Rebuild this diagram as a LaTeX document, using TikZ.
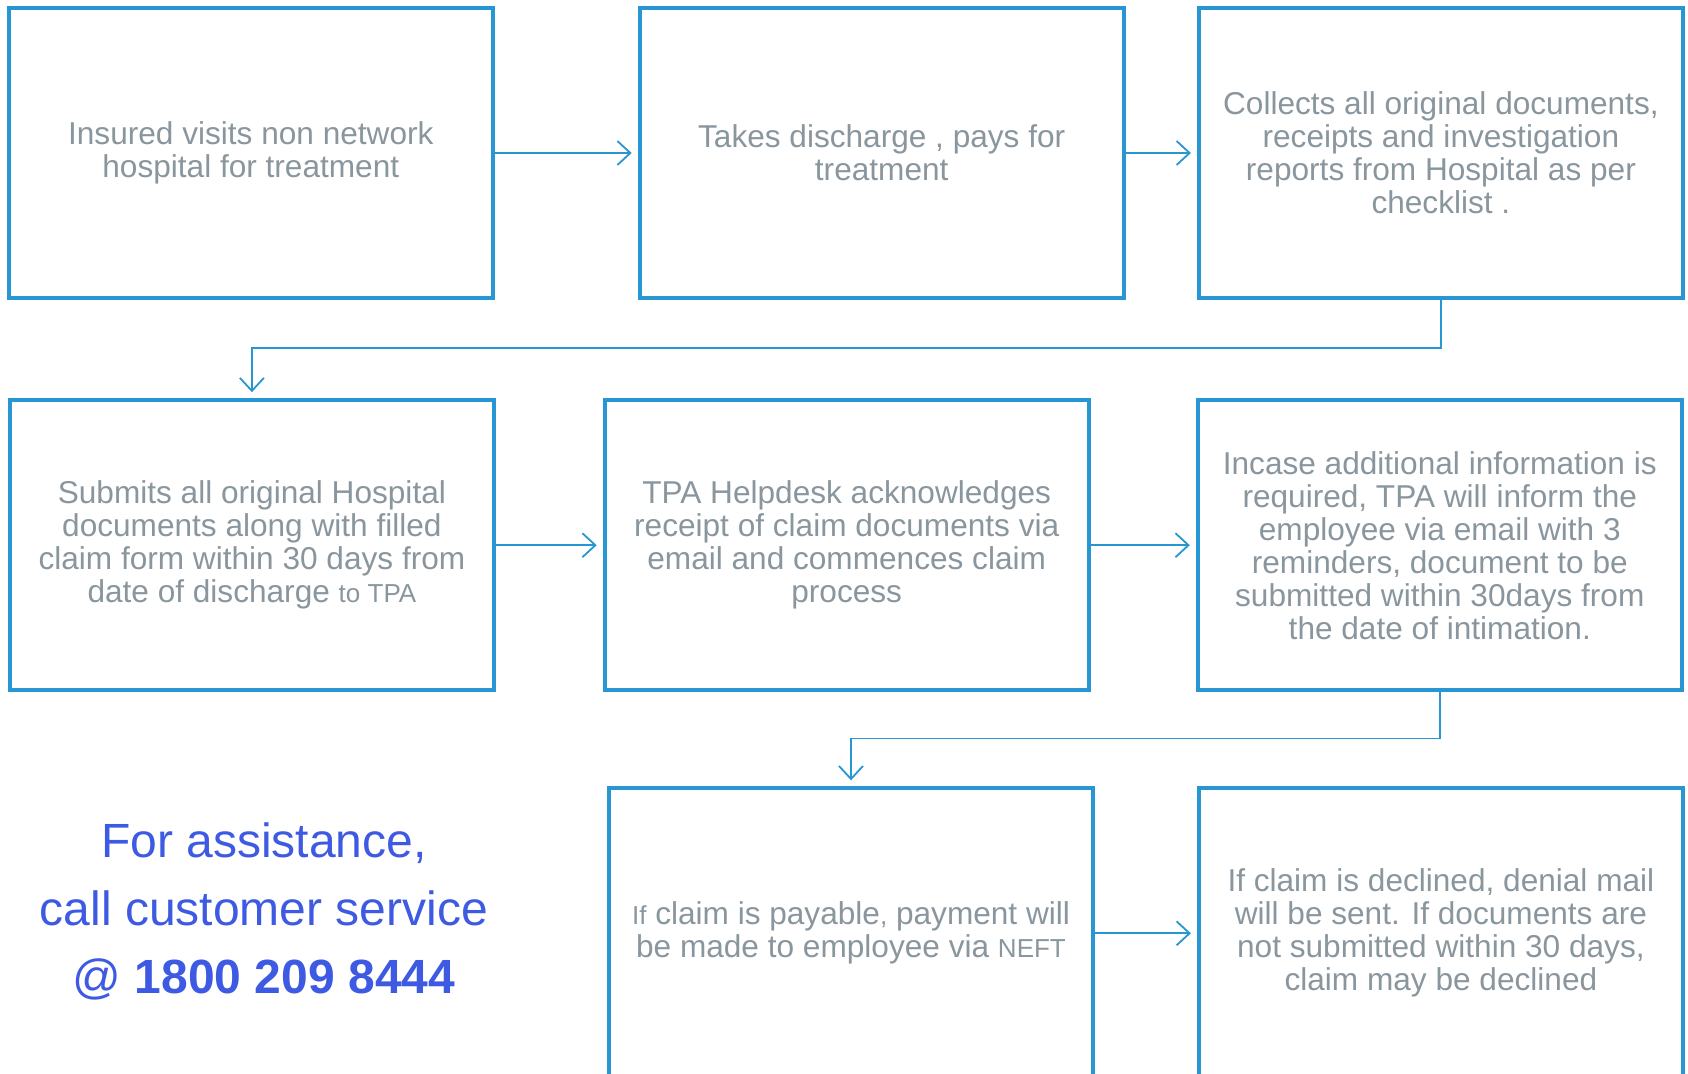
\documentclass[tikz,border=0pt]{standalone}
\usepackage{fontspec}
\setmainfont{Liberation Sans}
\usetikzlibrary{arrows.meta}
\definecolor{boxblue}{RGB}{40,150,211}
\definecolor{txtgray}{RGB}{138,150,158}
\definecolor{assist}{RGB}{62,90,226}
\tikzset{
  flowbox/.style={draw=boxblue, line width=2pt, rectangle, minimum width=242pt, minimum height=145pt,
    align=center, text=txtgray, font=\fontsize{15.8}{16.5}\selectfont, inner sep=0pt},
  conn/.style={draw=boxblue, line width=0.9pt, -{Straight Barb[length=6.5pt,width=12pt,line width=0.9pt]}, shorten >=3pt}
}
\newcommand{\sm}[1]{{\fontsize{13}{16.5}\selectfont #1}}
\begin{document}
\begin{tikzpicture}[x=0.5pt,y=-0.5pt]
\useasboundingbox (0,0) rectangle (1688,1073);
\clip (0,0) rectangle (1688,1073);
\fill[white] (0,0) rectangle (1688,1073);
% row 1
\node[flowbox] (b1) at (250.8,153) {Insured visits non network\\hospital for treatment};
\node[flowbox] (b2) at (881.7,153) {Takes discharge , pays for\\treatment};
\node[flowbox] (b3) at (1440.9,153) {Collects all original documents,\\receipts and investigation\\reports from Hospital as per\\checklist .};
% row 2
\node[flowbox] (b4) at (251.9,545.2) {Submits all original Hospital\\documents along with filled\\claim form within 30 days from\\date of discharge \sm{to TPA}};
\node[flowbox] (b5) at (846.7,545.2) {TPA Helpdesk acknowledges\\receipt of claim documents via\\email and commences claim\\process};
\node[flowbox] (b6) at (1439.8,545.2) {Incase additional information is\\required, TPA will inform the\\employee via email with 3\\reminders, document to be\\submitted within 30days from\\the date of intimation.};
% row 3
\node[flowbox] (b7) at (851,933.3) {\sm{If} claim is payable\sm{,} payment will\\be made to employee via \sm{NEFT}};
\node[flowbox] (b8) at (1440.9,933.3) {If claim is declined, denial mail\\will be sent. If documents are\\not submitted within 30 days,\\claim may be declined};
% assistance
\node[align=center, text=assist, font=\fontsize{24}{34}\selectfont, inner sep=0pt] (help) at (264,911)
  {For assistance,\\call customer service\\@ \textbf{1800 209 8444}};
% connectors
\coordinate (m1) at (0,347.7);
\coordinate (m2) at (0,738.5);
\draw[conn] (b1.east) -- (b2.west);
\draw[conn] (b2.east) -- (b3.west);
\draw[conn] (b3.south) -- (b3.south |- m1) -| (b4.north);
\draw[conn] (b4.east) -- (b5.west);
\draw[conn] (b5.east) -- (b6.west);
\draw[conn] (b6.south) -- (b6.south |- m2) -| (b7.north);
\draw[conn] (b7.east) -- (b8.west);
\end{tikzpicture}
\end{document}
